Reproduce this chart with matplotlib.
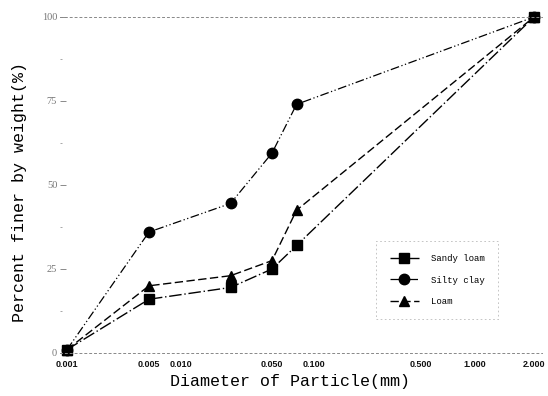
import numpy as np
import matplotlib
matplotlib.use("Agg")
import matplotlib.pyplot as plt

# particle diameters (mm) and percent finer by weight
diameter = [0.001, 0.005, 0.024, 0.05, 0.075, 2.0]
sandy_loam = [1, 16, 19.5, 25, 32, 100]
silty_clay = [1, 36, 44.5, 59.5, 74, 100]
loam = [1, 20, 23, 27.5, 42.5, 100]

xticks = [0.001, 0.005, 0.010, 0.050, 0.100, 0.500, 1.000, 2.000]
xtick_labels = ["0.001", "0.005", "0.010", "0.050", "0.100", "0.500", "1.000", "2.000"]
yticks = [0, 25, 50, 75, 100]

# the printed axis is not a true log scale, so warp log10 through the tick spacing
LOGS = [-3.05, -3, np.log10(0.005), -2, np.log10(0.05), -1, np.log10(0.5), 0, np.log10(2), np.log10(2) + 0.04]
POS = [60, 67, 149, 181, 272, 314, 421, 475, 534, 542]


def fwd(x):
    x = np.asarray(x, dtype=float)
    return np.interp(np.log10(np.clip(x, 1e-12, None)), LOGS, POS)


def inv(p):
    return 10 ** np.interp(p, POS, LOGS)


fig = plt.figure(figsize=(5.48, 3.96), dpi=100)
ax = fig.add_axes([60 / 548, 43 / 396, 482 / 548, 336 / 396])
ax.set_xscale("function", functions=(fwd, inv))
ax.set_xlim(inv(60), inv(542))
ax.set_ylim(0, 100)

ax.plot(diameter, sandy_loam, color="black", lw=1.0, ls=(0, (9, 2, 1, 2)),
        marker="s", ms=6.5, clip_on=False, label="Sandy loam")
ax.plot(diameter, silty_clay, color="black", lw=0.9, ls=(0, (7, 2, 1, 2, 1, 2)),
        marker="o", ms=7.5, clip_on=False, label="Silty clay")
ax.plot(diameter, loam, color="black", lw=1.0, ls=(0, (6, 2.5)),
        marker="^", ms=7, clip_on=False, label="Loam")

ax.set_xticks(xticks)
ax.set_xticklabels(xtick_labels)
ax.xaxis.set_minor_locator(plt.NullLocator())
ax.set_yticks(yticks)
ax.set_yticks([12.5, 37.5, 62.5, 87.5], minor=True)
ax.tick_params(axis="x", length=0, pad=5, labelsize=6.5, labelcolor="#111111")
ax.tick_params(axis="y", which="major", direction="in", length=4, width=0.6,
               color="#777777", labelsize=7.5, labelcolor="#777777", pad=2)
ax.tick_params(axis="y", which="minor", direction="in", length=1.5, width=0.6,
               color="#999999")
for lab in ax.get_yticklabels():
    lab.set_family("Liberation Serif")
for lab in ax.get_xticklabels():
    lab.set_family("Liberation Sans")
    lab.set_fontweight("bold")

for side in ["top", "bottom"]:
    ax.spines[side].set_linestyle((0, (2, 3)))
    ax.spines[side].set_color("#888888")
    ax.spines[side].set_linewidth(0.7)
ax.spines["left"].set_visible(False)
ax.spines["right"].set_visible(False)

ax.set_xlabel("Diameter of Particle(mm)", family="Liberation Mono", fontsize=12)
ax.set_ylabel("Percent finer by weight(%)", family="Liberation Mono", fontsize=12)
ax.xaxis.set_label_coords(0.477, -0.062)
ax.yaxis.set_label_coords(-0.068, 0.48)

leg = ax.legend(loc="center", bbox_to_anchor=(0.647, 0.092, 0.272, 0.25),
                mode="expand", handlelength=3.2, labelspacing=1.35, fancybox=False,
                borderpad=1.5, handletextpad=1.3,
                prop={"family": "Liberation Mono", "size": 6.5})
leg.get_frame().set_edgecolor("#aaaaaa")
leg.get_frame().set_linestyle((0, (2, 3)))
leg.get_frame().set_linewidth(0.6)

fig.savefig("out.png", dpi=100)
